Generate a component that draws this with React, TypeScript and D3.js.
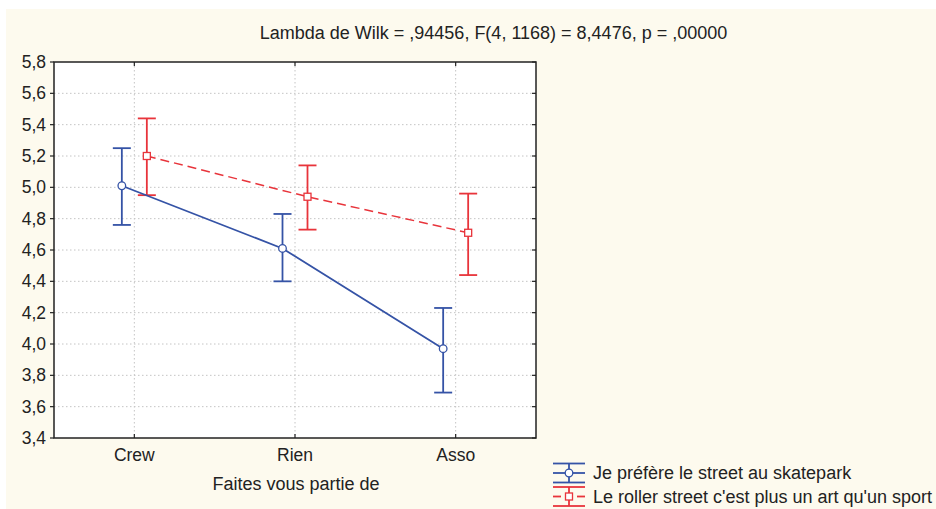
import React from "react";
import * as d3 from "d3";

const categories = ["Crew", "Rien", "Asso"];
const yTicks = [3.4, 3.6, 3.8, 4.0, 4.2, 4.4, 4.6, 4.8, 5.0, 5.2, 5.4, 5.6, 5.8];
const series1Name = "Je préfère le street au skatepark";
const series1Mean = [5.01, 4.61, 3.97];
const series1Low = [4.76, 4.40, 3.69];
const series1High = [5.25, 4.83, 4.23];
const series2Name = "Le roller street c'est plus un art qu'un sport";
const series2Mean = [5.20, 4.94, 4.71];
const series2Low = [4.95, 4.73, 4.44];
const series2High = [5.44, 5.14, 4.96];
const titleText = "Lambda de Wilk = ,94456, F(4, 1168) = 8,4476, p = ,00000";
const xTitle = "Faites vous partie de";

const W = 936, H = 509;
const L = 54, R = 536, T = 62, B = 438;
const BLUE = "#3553a6";
const RED = "#e8343b";
const FONT = "'Liberation Sans', Arial, sans-serif";

export default function App() {
  const x = d3.scaleBand<string>().domain(categories).range([L, R]);
  const cx = (c: string) => (x(c) as number) + x.bandwidth() / 2;
  const y = d3.scaleLinear().domain([3.4, 5.8]).range([B, T]);
  const off = 12.5;
  const cap = 9;
  const fmt = (v: number) => v.toFixed(1).replace(".", ",");

  const line1 = d3.line<number>().x((_, i) => cx(categories[i]) - off).y((d) => y(d));
  const line2 = d3.line<number>().x((_, i) => cx(categories[i]) + off).y((d) => y(d));

  const errBars = (means: number[], lows: number[], highs: number[], dx: number, color: string) =>
    means.map((m, i) => {
      const px = cx(categories[i]) + dx;
      return (
        <g key={i} stroke={color} strokeWidth={1.8} fill="none">
          <line x1={px} x2={px} y1={y(highs[i])} y2={y(lows[i])} />
          <line x1={px - cap} x2={px + cap} y1={y(highs[i])} y2={y(highs[i])} />
          <line x1={px - cap} x2={px + cap} y1={y(lows[i])} y2={y(lows[i])} />
        </g>
      );
    });

  return (
    <svg width={W} height={H} style={{ position: "absolute", left: 0, top: 0 }} fontFamily={FONT}>
      <rect x={0} y={0} width={W} height={H} fill="#ffffff" />
      <rect x={6} y={9} width={W - 6} height={H - 9} fill="#fdfaee" />
      <rect x={L} y={T} width={R - L} height={B - T} fill="#ffffff" />
      {/* grid */}
      {yTicks.slice(1, -1).map((t) => (
        <line key={"g" + t} x1={L} x2={R} y1={y(t)} y2={y(t)} stroke="#c4c4c4" strokeWidth={1} strokeDasharray="1.5,2.5" />
      ))}
      {categories.map((c) => (
        <line key={"v" + c} x1={cx(c)} x2={cx(c)} y1={T} y2={B} stroke="#c4c4c4" strokeWidth={1} strokeDasharray="1.5,2.5" />
      ))}
      {/* frame */}
      <rect x={L} y={T} width={R - L} height={B - T} fill="none" stroke="#222" strokeWidth={1.5} />
      {yTicks.map((t) => (
        <g key={"t" + t}>
          <line x1={L - 4} x2={L} y1={y(t)} y2={y(t)} stroke="#222" strokeWidth={1.2} />
          <line x1={R - 4} x2={R} y1={y(t)} y2={y(t)} stroke="#222" strokeWidth={1.2} />
          <text x={46} y={y(t)} dy="0.35em" textAnchor="end" fontSize={17.5} fill="#222">
            {fmt(t)}
          </text>
        </g>
      ))}
      {categories.map((c) => (
        <g key={"xt" + c}>
          <line x1={cx(c)} x2={cx(c)} y1={B} y2={B - 4} stroke="#222" strokeWidth={1.2} />
          <line x1={cx(c)} x2={cx(c)} y1={T} y2={T + 4} stroke="#222" strokeWidth={1.2} />
          <text x={cx(c)} y={461} textAnchor="middle" fontSize={17.5} fill="#222">
            {c}
          </text>
        </g>
      ))}
      <text x={296} y={490} textAnchor="middle" fontSize={18} fill="#222">
        {xTitle}
      </text>
      <text x={493.5} y={39} textAnchor="middle" fontSize={18} fill="#222">
        {titleText}
      </text>
      {/* series 2 (red dashed) */}
      {errBars(series2Mean, series2Low, series2High, off, RED)}
      <path d={line2(series2Mean) || ""} fill="none" stroke={RED} strokeWidth={1.5} strokeDasharray="9,5" />
      {series2Mean.map((m, i) => (
        <rect key={"r" + i} x={cx(categories[i]) + off - 3.5} y={y(m) - 3.5} width={7} height={7} fill="#fff" stroke={RED} strokeWidth={1.3} />
      ))}
      {/* series 1 (blue solid) */}
      {errBars(series1Mean, series1Low, series1High, -off, BLUE)}
      <path d={line1(series1Mean) || ""} fill="none" stroke={BLUE} strokeWidth={1.8} />
      {series1Mean.map((m, i) => (
        <circle key={"c" + i} cx={cx(categories[i]) - off} cy={y(m)} r={3.8} fill="#fff" stroke={BLUE} strokeWidth={1.3} />
      ))}
      {/* legend */}
      <g stroke={BLUE} strokeWidth={1.8}>
        <line x1={553} x2={585} y1={463.5} y2={463.5} />
        <line x1={553} x2={585} y1={482.5} y2={482.5} />
        <line x1={569} x2={569} y1={463.5} y2={482.5} />
        <line x1={553} x2={585} y1={473} y2={473} />
      </g>
      <circle cx={569} cy={473} r={3.8} fill="#fff" stroke={BLUE} strokeWidth={1.3} />
      <text x={593} y={478.5} fontSize={18} fill="#222">{series1Name}</text>
      <g stroke={RED} strokeWidth={1.8}>
        <line x1={553} x2={585} y1={487} y2={487} />
        <line x1={553} x2={585} y1={506} y2={506} />
        <line x1={569} x2={569} y1={487} y2={506} />
        <line x1={553} x2={561} y1={496.5} y2={496.5} />
        <line x1={577} x2={585} y1={496.5} y2={496.5} />
      </g>
      <rect x={565.5} y={493} width={7} height={7} fill="#fff" stroke={RED} strokeWidth={1.3} />
      <text x={593} y={503} fontSize={18} fill="#222">{series2Name}</text>
    </svg>
  );
}
